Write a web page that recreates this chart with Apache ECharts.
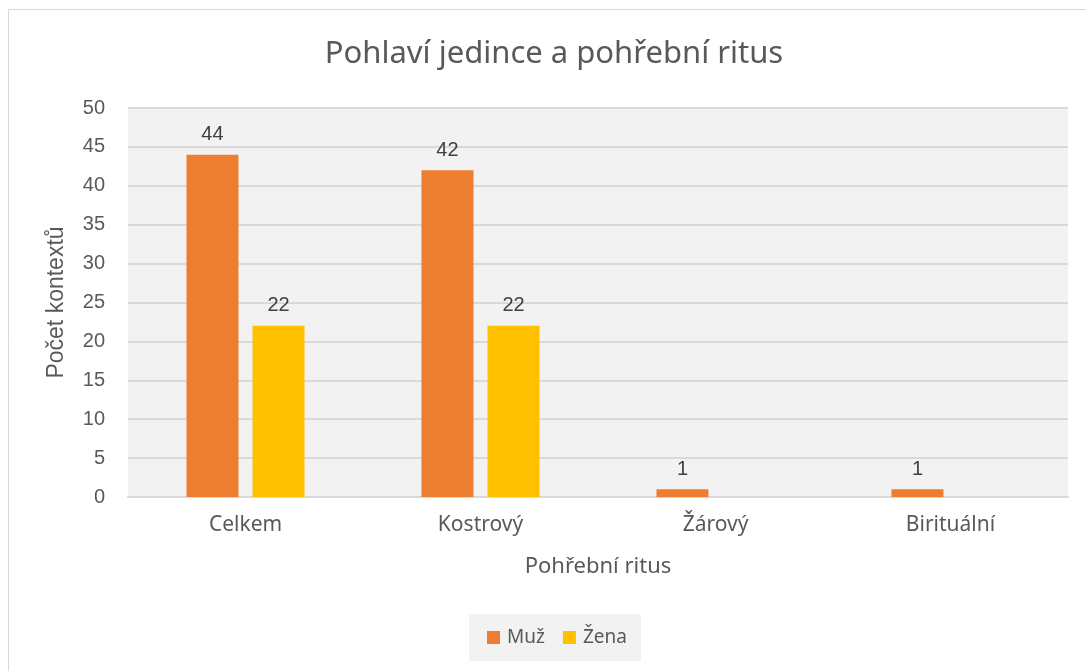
<!DOCTYPE html>
<html>
<head>
<meta charset="utf-8">
<script src="https://cdn.jsdelivr.net/npm/echarts@6/dist/echarts.min.js"></script>
<style>
  html, body { margin: 0; padding: 0; background: #fff; }
  #chart { width: 1086px; height: 671px; }
</style>
</head>
<body>
<div id="chart"></div>
<script>
// data
const categories = ['Celkem', 'Kostrový', 'Žárový', 'Birituální'];
const muz = [44, 42, 1, 1];
const zena = [22, 22, null, null];
const yTicks = { min: 0, max: 50, interval: 5 };

const textColor = '#595959';
const numFont = 'Liberation Sans, Arial, sans-serif';
const txtFont = 'Noto Sans, sans-serif';

const chart = echarts.init(document.getElementById('chart'));
chart.setOption({
    backgroundColor: '#fff',
    animation: false,
    title: {
        text: 'Pohlaví jedince a pohřební ritus',
        left: 549,
        textAlign: 'center',
        top: 34,
        textStyle: { color: textColor, fontSize: 31, fontWeight: 'normal', fontFamily: txtFont }
    },
    graphic: [{
        type: 'rect',
        shape: { x: 8.5, y: 9.5, width: 1100, height: 700 },
        style: { fill: 'none', stroke: '#d9d9d9', lineWidth: 1 },
        silent: true
    }],
    legend: {
        data: ['Muž', 'Žena'],
        left: 469,
        top: 614,
        width: 167,
        height: 46,
        padding: [14, 14, 14, 18],
        backgroundColor: '#f2f2f2',
        itemWidth: 13,
        itemHeight: 13,
        itemGap: 18,
        icon: 'rect',
        textStyle: { color: textColor, fontSize: 19, fontFamily: txtFont, padding: [0, 0, 0, 2] }
    },
    grid: {
        left: 128,
        right: 18,
        top: 108,
        bottom: 174,
        show: true,
        backgroundColor: '#f2f2f2',
        borderWidth: 0
    },
    xAxis: {
        type: 'category',
        data: categories,
        name: 'Pohřební ritus',
        nameLocation: 'middle',
        nameGap: 59,
        nameTextStyle: { color: textColor, fontSize: 22, fontFamily: txtFont },
        axisLine: { show: true, lineStyle: { color: '#d9d9d9', width: 2 } },
        axisTick: { show: false },
        axisLabel: { color: textColor, fontSize: 21, fontFamily: txtFont, margin: 18 }
    },
    yAxis: {
        type: 'value',
        min: yTicks.min,
        max: yTicks.max,
        interval: yTicks.interval,
        name: 'Počet kontextů',
        nameLocation: 'middle',
        nameGap: 60,
        nameTextStyle: { color: textColor, fontSize: 23, fontFamily: numFont },
        axisLine: { show: false },
        axisTick: { show: false },
        axisLabel: { color: textColor, fontSize: 20, fontFamily: numFont, margin: 23 },
        splitLine: { lineStyle: { color: '#d9d9d9', width: 2 } }
    },
    series: [
        {
            name: 'Muž',
            type: 'bar',
            data: muz,
            barWidth: 52,
            barGap: '27%',
            itemStyle: { color: '#ed7d31' },
            label: { show: true, position: 'top', distance: 10, color: '#404040', fontSize: 20, fontFamily: numFont }
        },
        {
            name: 'Žena',
            type: 'bar',
            data: zena,
            barWidth: 52,
            itemStyle: { color: '#ffc000' },
            label: { show: true, position: 'top', distance: 10, color: '#404040', fontSize: 20, fontFamily: numFont }
        }
    ]
});
</script>
</body>
</html>
